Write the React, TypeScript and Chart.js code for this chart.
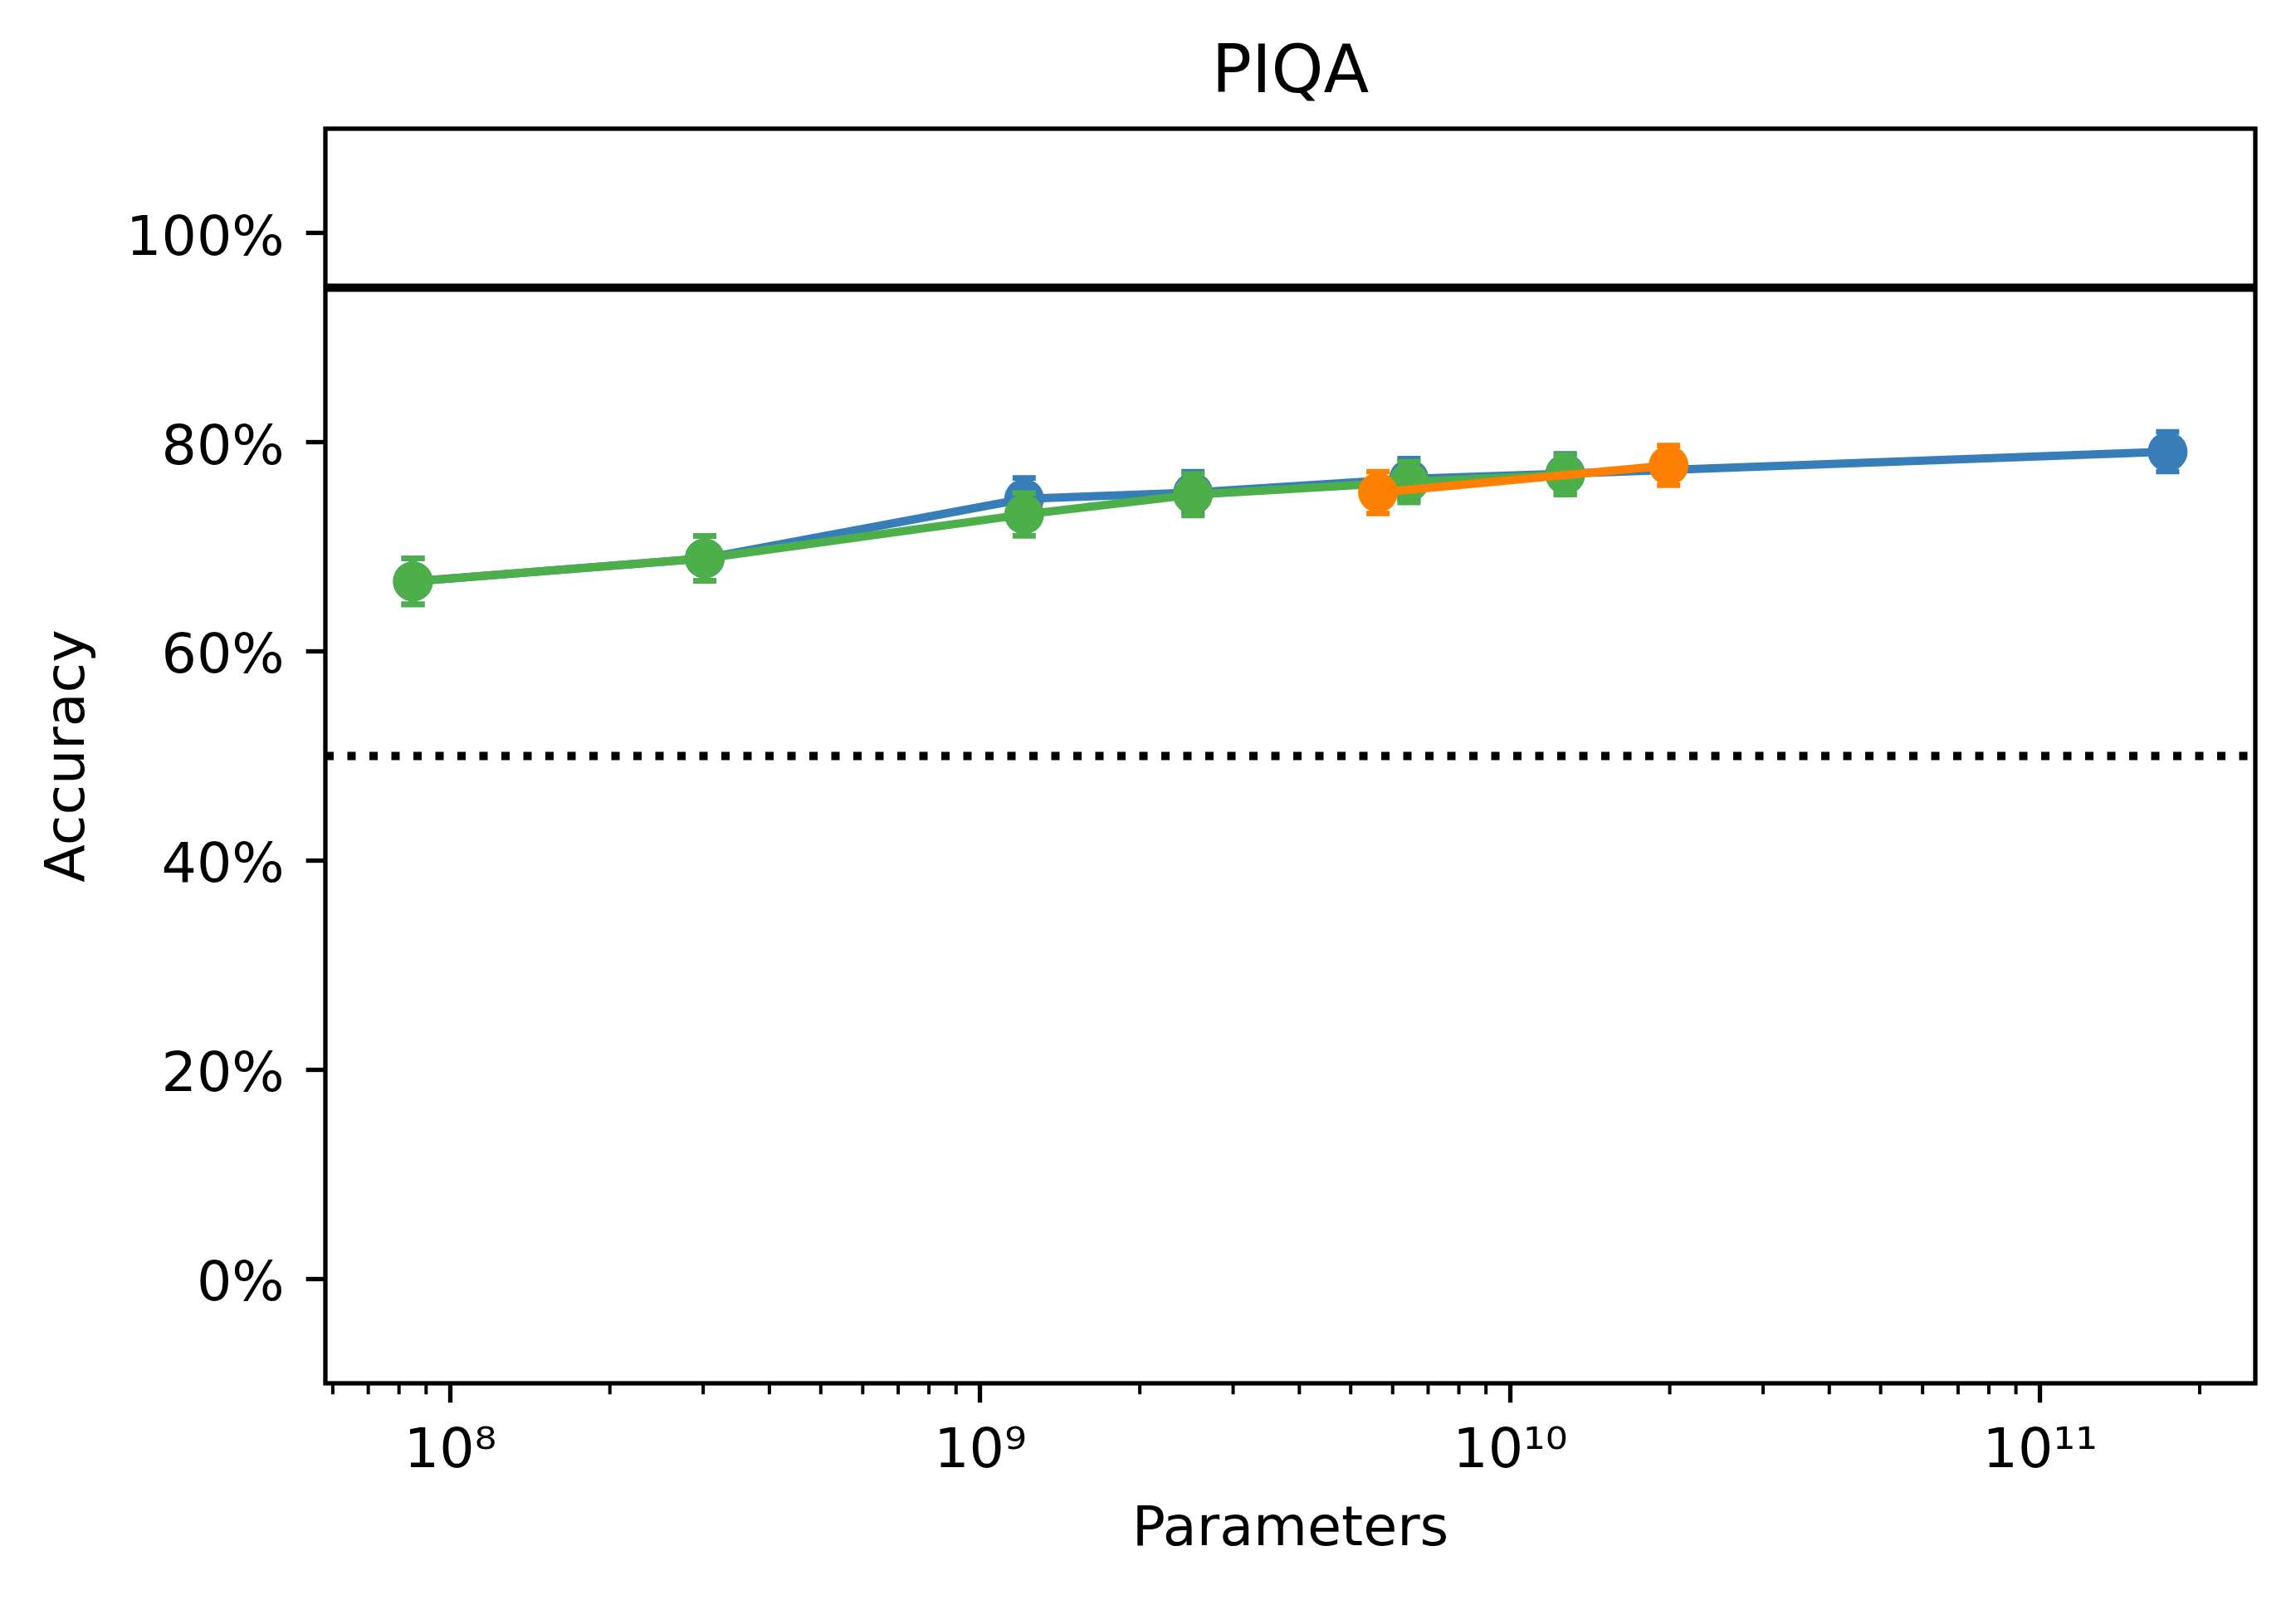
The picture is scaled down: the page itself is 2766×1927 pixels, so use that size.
import { useEffect, useRef } from "react"
import { Chart, registerables, type ChartConfiguration, type Plugin } from "chart.js"

Chart.register(...registerables)

// parameter counts (x) and accuracy in % (y)
const GREEN_X = [8.5e7, 3.02e8, 1.21e9, 2.52e9, 6.44e9, 1.27e10]
const GREEN_Y = [66.7, 68.9, 73.1, 75.0, 76.2, 76.9]
const GREEN_ERR = [2.2, 2.15, 2.05, 2.0, 1.95, 1.9]

const BLUE_X = [8.5e7, 3.02e8, 1.21e9, 2.52e9, 6.44e9, 1.27e10, 1.74e11]
const BLUE_Y = [66.7, 68.9, 74.6, 75.2, 76.5, 77.0, 79.1]
const BLUE_ERR = [2.2, 2.15, 2.0, 2.0, 1.95, 1.9, 1.9]

const ORANGE_X = [5.63e9, 1.99e10]
const ORANGE_Y = [75.2, 77.8]
const ORANGE_ERR = [2.0, 1.9]

const HUMAN_LEVEL = 94.8
const RANDOM_LEVEL = 50

const X_MIN = 5.81e7
const X_MAX = 2.547e11
const X_TICKS = [1e8, 1e9, 1e10, 1e11]
const X_TICK_LABELS = ["10⁸", "10⁹", "10¹⁰", "10¹¹"]
const Y_TICKS = [0, 20, 40, 60, 80, 100]

const BLUE = "#377eb8"
const ORANGE = "#ff7f00"
const GREEN = "#4daf4a"
const FONT = "'DejaVu Sans', sans-serif"

const W = 2766
const H = 1927

const toPoints = (xs: number[], ys: number[]) => xs.map((x, i) => ({ x, y: ys[i] }))

// error half-widths per dataset index
const ERRORS: (number[] | null)[] = [ORANGE_ERR, GREEN_ERR, BLUE_ERR, null, null]

const errorBars: Plugin<"scatter"> = {
  id: "errorBars",
  beforeDatasetDraw(chart, args) {
    const errs = ERRORS[args.index]
    if (!errs) return
    const ds = chart.data.datasets[args.index]
    const xs = chart.scales.x
    const ys = chart.scales.y
    const ctx = chart.ctx
    ctx.save()
    ctx.strokeStyle = ds.borderColor as string
    ;(ds.data as { x: number; y: number }[]).forEach((p, i) => {
      const px = xs.getPixelForValue(p.x)
      const top = ys.getPixelForValue(p.y + errs[i])
      const bot = ys.getPixelForValue(p.y - errs[i])
      ctx.lineWidth = 10
      ctx.beginPath()
      ctx.moveTo(px, top)
      ctx.lineTo(px, bot)
      ctx.stroke()
      ctx.lineWidth = 6.7
      ctx.beginPath()
      ctx.moveTo(px - 14, top)
      ctx.lineTo(px + 14, top)
      ctx.moveTo(px - 14, bot)
      ctx.lineTo(px + 14, bot)
      ctx.stroke()
    })
    ctx.restore()
  },
}

const frame: Plugin<"scatter"> = {
  id: "frame",
  afterDraw(chart) {
    const { ctx, chartArea } = chart
    const xs = chart.scales.x
    ctx.save()
    ctx.strokeStyle = "#000"
    // minor log ticks
    ctx.lineWidth = 4
    ctx.beginPath()
    for (let k = 7; k <= 11; k++) {
      for (let m = 2; m <= 9; m++) {
        const v = m * Math.pow(10, k)
        if (v < X_MIN || v > X_MAX) continue
        const px = xs.getPixelForValue(v)
        ctx.moveTo(px, chartArea.bottom)
        ctx.lineTo(px, chartArea.bottom + 13.3)
      }
    }
    ctx.stroke()
    ctx.lineWidth = 5.3
    ctx.strokeRect(chartArea.left, chartArea.top, chartArea.right - chartArea.left, chartArea.bottom - chartArea.top)
    ctx.restore()
  },
}

export default function App() {
  const canvasRef = useRef<HTMLCanvasElement>(null)
  const chartRef = useRef<Chart | null>(null)

  useEffect(() => {
    if (!canvasRef.current) return
    if (chartRef.current) chartRef.current.destroy()
    const ctx = canvasRef.current.getContext("2d")
    if (!ctx) return

    const series = (label: string, color: string, xs: number[], ys: number[]) => ({
      label,
      data: toPoints(xs, ys),
      showLine: true,
      borderColor: color,
      backgroundColor: color,
      borderWidth: 10,
      pointRadius: 24,
      pointHoverRadius: 24,
      pointBorderWidth: 0,
      pointBackgroundColor: color,
    })

    const config: ChartConfiguration<"scatter"> = {
      type: "scatter",
      data: {
        datasets: [
          series("orange", ORANGE, ORANGE_X, ORANGE_Y),
          series("green", GREEN, GREEN_X, GREEN_Y),
          series("blue", BLUE, BLUE_X, BLUE_Y),
          {
            label: "human",
            data: [
              { x: X_MIN, y: HUMAN_LEVEL },
              { x: X_MAX, y: HUMAN_LEVEL },
            ],
            showLine: true,
            borderColor: "#000",
            borderWidth: 10,
            pointRadius: 0,
          },
          {
            label: "random",
            data: [
              { x: X_MIN, y: RANDOM_LEVEL },
              { x: X_MAX, y: RANDOM_LEVEL },
            ],
            showLine: true,
            borderColor: "#000",
            borderWidth: 10,
            borderDash: [10, 16.5],
            borderCapStyle: "butt",
            pointRadius: 0,
          },
        ],
      },
      options: {
        animation: false,
        responsive: false,
        devicePixelRatio: 1,
        layout: { padding: { top: 0, left: 0, right: 49, bottom: 0 }, autoPadding: false },
        plugins: {
          legend: { display: false },
          tooltip: { enabled: false },
          title: {
            display: true,
            fullSize: false,
            text: "PIQA",
            color: "#000",
            font: { family: FONT, size: 80, weight: "normal" },
            padding: { top: 42, bottom: 17 },
          },
        },
        scales: {
          x: {
            type: "logarithmic",
            min: X_MIN,
            max: X_MAX,
            bounds: "data",
            afterBuildTicks: (scale) => {
              scale.ticks = X_TICKS.map((value) => ({ value }))
            },
            afterFit: (scale) => {
              scale.height = 261
            },
            ticks: {
              autoSkip: false,
              maxRotation: 0,
              padding: 20,
              color: "#000",
              font: { family: FONT, size: 66.7 },
              callback: (_v, i) => X_TICK_LABELS[i],
            },
            grid: {
              display: true,
              drawOnChartArea: false,
              drawTicks: true,
              tickLength: 23.3,
              tickWidth: 5.3,
              tickColor: "#000",
            },
            border: { display: false },
            title: {
              display: true,
              text: "Parameters",
              color: "#000",
              font: { family: FONT, size: 66.7 },
              padding: { top: 0, bottom: 43.5 },
            },
          },
          y: {
            type: "linear",
            min: -10,
            max: 110,
            bounds: "data",
            afterBuildTicks: (scale) => {
              scale.ticks = Y_TICKS.map((value) => ({ value }))
            },
            afterFit: (scale) => {
              scale.width = 392
            },
            ticks: {
              autoSkip: false,
              padding: 26,
              labelOffset: 8.5,
              color: "#000",
              font: { family: FONT, size: 66.7 },
              callback: (v) => `${v}%`,
            },
            grid: {
              display: true,
              drawOnChartArea: false,
              drawTicks: true,
              tickLength: 23.3,
              tickWidth: 5.3,
              tickColor: "#000",
            },
            border: { display: false },
            title: {
              display: true,
              text: "Accuracy",
              color: "#000",
              font: { family: FONT, size: 66.7 },
              padding: { top: 44, bottom: 0 },
            },
          },
        },
      },
      plugins: [errorBars, frame],
    }

    chartRef.current = new Chart(ctx, config)

    return () => {
      if (chartRef.current) {
        chartRef.current.destroy()
        chartRef.current = null
      }
    }
  }, [])

  return (
    <div style={{ position: "fixed", left: 0, top: 0, width: W, height: H, background: "#fff" }}>
      <canvas ref={canvasRef} width={W} height={H} style={{ display: "block" }}></canvas>
    </div>
  )
}
